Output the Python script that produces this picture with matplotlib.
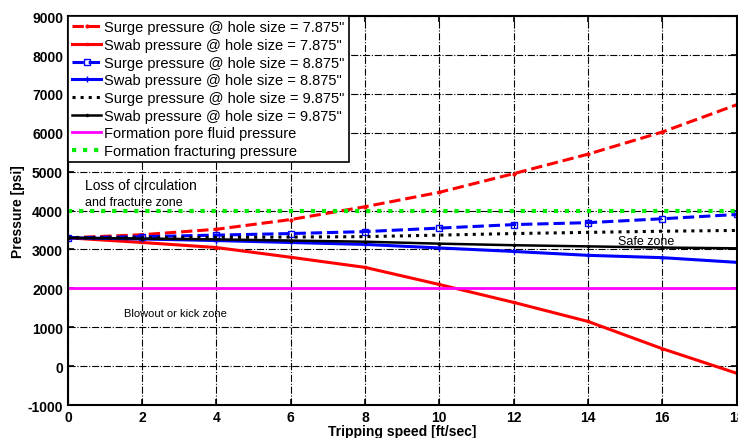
import numpy as np
import matplotlib.pyplot as plt

plt.rcParams['font.family'] = ['Liberation Sans', 'DejaVu Sans']
plt.rcParams['axes.unicode_minus'] = False

# tripping speed [ft/sec]
speed = [0, 2, 4, 6, 8, 10, 12, 14, 16, 18]

# pressures [psi]
surge_7875 = [3300, 3380, 3520, 3770, 4100, 4470, 4950, 5450, 6020, 6720]
swab_7875 = [3300, 3180, 3050, 2800, 2540, 2100, 1640, 1150, 450, -180]
surge_8875 = [3300, 3330, 3370, 3410, 3460, 3550, 3640, 3690, 3790, 3900]
swab_8875 = [3300, 3270, 3230, 3180, 3130, 3040, 2950, 2850, 2790, 2670]
surge_9875 = [3300, 3300, 3310, 3320, 3330, 3370, 3410, 3440, 3470, 3490]
swab_9875 = [3300, 3280, 3260, 3230, 3200, 3150, 3110, 3080, 3050, 3030]
pore_pressure = 2000
frac_pressure = 4000

labels = ['Surge pressure @ hole size = 7.875"',
          'Swab pressure @ hole size = 7.875"',
          'Surge pressure @ hole size = 8.875"',
          'Swab pressure @ hole size = 8.875"',
          'Surge pressure @ hole size = 9.875"',
          'Swab pressure @ hole size = 9.875"',
          'Formation pore fluid pressure',
          'Formation fracturing pressure']

fig = plt.figure(figsize=(7.38, 4.39), dpi=100)
ax = fig.add_axes([0.092, 0.075, 0.906, 0.886])

ax.plot(speed, surge_7875, color='red', ls='--', lw=2.2, marker='.', ms=4, label=labels[0])
ax.plot(speed, swab_7875, color='red', ls='-', lw=2.2, marker='s', ms=2, label=labels[1])
ax.plot(speed, surge_8875, color='blue', ls='--', lw=2.2, marker='s', ms=4, mfc='none', label=labels[2])
ax.plot(speed, swab_8875, color='blue', ls='-', lw=2.2, marker='+', ms=4, label=labels[3])
ax.plot(speed, surge_9875, color='black', ls=':', lw=2.2, label=labels[4])
ax.plot(speed, swab_9875, color='black', ls='-', lw=1.8, marker='.', ms=3, label=labels[5])
ax.axhline(pore_pressure, color='magenta', lw=2, label=labels[6])
ax.axhline(frac_pressure, color='#00ee00', ls=':', lw=3, label=labels[7])

ax.text(0.45, 4650, 'Loss of circulation', fontsize=10, va='center')
ax.text(0.45, 4230, 'and fracture zone', fontsize=9, va='center')
ax.text(1.5, 1380, 'Blowout or kick zone', fontsize=8, va='center')
ax.text(14.8, 3230, 'Safe zone', fontsize=9, va='center')

ax.set_xlim(0, 18)
ax.set_ylim(-1000, 9000)
ax.set_xticks(range(0, 19, 2))
ax.set_yticks(range(-1000, 9001, 1000))
ax.tick_params(labelsize=10, direction='in', length=4, width=1.2, top=True, right=True)
for lbl in ax.get_xticklabels() + ax.get_yticklabels():
    lbl.set_fontweight('bold')
ax.grid(True, color='black', ls='-.', lw=0.8)
for s in ax.spines.values():
    s.set_linewidth(1.5)

ax.set_xlabel('Tripping speed [ft/sec]', fontsize=10, fontweight='bold', labelpad=0)
ax.set_ylabel('Pressure [psi]', fontsize=10, fontweight='bold', labelpad=2)

leg = ax.legend(loc='upper left', fontsize=10.5, frameon=True, fancybox=False,
                edgecolor='black', framealpha=1, borderaxespad=0, handlelength=2,
                labelspacing=0.25, borderpad=0.3, handletextpad=0.2)
leg.get_frame().set_linewidth(1.2)

fig.savefig('out.png', dpi=100)
